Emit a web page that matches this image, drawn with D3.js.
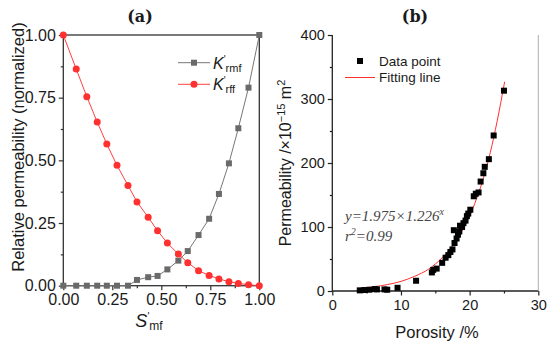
<!DOCTYPE html>
<html>
<head>
<meta charset="utf-8">
<script src="https://cdn.jsdelivr.net/npm/d3@7"></script>
<style>
  body { margin: 0; background: #fff; }
  text { font-family: Arial, "Liberation Sans", sans-serif; fill: #1a1a1a; }
</style>
</head>
<body>
<div id="chart"></div>
<script>
// ---- panel (a): relative permeability vs normalized saturation
var satX = [0, 0.066, 0.12, 0.173, 0.222, 0.274, 0.33, 0.376, 0.433, 0.481, 0.531, 0.587, 0.635, 0.69, 0.744, 0.794, 0.845, 0.893, 0.945, 1.0];
var krmf = [0, 0, 0, 0, 0, 0, 0, 0.023, 0.034, 0.039, 0.065, 0.1, 0.138, 0.202, 0.267, 0.366, 0.488, 0.628, 0.79, 1.0];
var krff = [1.0, 0.864, 0.754, 0.653, 0.565, 0.48, 0.40, 0.334, 0.273, 0.219, 0.17, 0.126, 0.092, 0.06, 0.041, 0.027, 0.016, 0.009, 0.004, 0.0];
var aTicks = [0, 0.25, 0.5, 0.75, 1.0];
var aMinor = [0.125, 0.375, 0.625, 0.875];

// ---- panel (b): permeability vs porosity
var porosity = [4.0, 4.7, 5.4, 6.2, 6.5, 7.6, 8.0, 9.5, 12.2, 14.5, 14.7, 15.2, 16.0, 16.5, 16.9, 17.2, 17.5, 17.7, 17.8, 18.1, 18.3, 18.5, 18.6, 18.9, 19.1, 19.4, 19.6, 19.8, 20.1, 20.6, 20.9, 21.3, 21.6, 22.0, 22.2, 22.8, 23.5, 25.0];
var perm = [1, 1.5, 2, 3, 2.5, 2.5, 2, 5, 16, 29, 33, 35, 44, 52, 56, 61, 65, 95, 75, 82, 88, 93, 102, 100, 106, 110, 117, 121, 127, 148, 152, 154, 171, 184, 194, 206, 243, 313];
var fitPorosity = [4, 6, 8, 10, 12, 14, 16, 18, 19, 20, 21, 22, 23, 24, 25.1];
var fitPerm = [4.4, 6.6, 10, 15, 23, 34, 52, 78, 96, 117, 144, 176, 216, 265, 327];
var bXTicks = [0, 10, 20, 30];
var bXMinor = [5, 15, 25];
var bYTicks = [0, 100, 200, 300, 400];
var bYMinor = [50, 150, 250, 350];

var svg = d3.select("#chart").append("svg")
            .attr("width", 550)
            .attr("height", 347);

function drawAxis(g, axis, color) {
  g.call(axis);
  g.select(".domain").remove();
  g.selectAll("line").attr("stroke", color).attr("stroke-width", 1.2);
  g.selectAll("text").attr("fill", "#1a1a1a");
}

// ================= panel (a) =================
var xa = d3.scaleLinear().domain([0, 1]).range([63.3, 259.3]);
var ya = d3.scaleLinear().domain([0, 1]).range([285.7, 35]);

var ga = svg.append("g");

drawAxis(ga.append("g").attr("transform", "translate(0,285.7)"),
  d3.axisBottom(xa).tickValues(aMinor).tickSize(2.5).tickFormat(""), "#333");
drawAxis(ga.append("g").attr("transform", "translate(0,285.7)")
    .style("font-size", "16px"),
  d3.axisBottom(xa).tickValues(aTicks).tickSize(4.5).tickPadding(3).tickFormat(d3.format(".2f")), "#333");
drawAxis(ga.append("g").attr("transform", "translate(63.3,0)"),
  d3.axisLeft(ya).tickValues(aMinor).tickSize(2.5).tickFormat(""), "#333");
drawAxis(ga.append("g").attr("transform", "translate(63.3,0)")
    .style("font-size", "16px"),
  d3.axisLeft(ya).tickValues(aTicks).tickSize(4.5).tickPadding(3).tickFormat(d3.format(".2f")), "#333");

ga.append("rect")
  .attr("x", xa(0)).attr("y", ya(1))
  .attr("width", xa(1) - xa(0)).attr("height", ya(0) - ya(1))
  .attr("fill", "none").attr("stroke", "#333").attr("stroke-width", 1.3);

var lineA = d3.line().x(function(d) { return xa(d[0]); }).y(function(d) { return ya(d[1]); });
var grayPts = satX.map(function(x, i) { return [x, krmf[i]]; });
var redPts = satX.map(function(x, i) { return [x, krff[i]]; });

ga.append("path").datum(grayPts).attr("d", lineA)
  .attr("fill", "none").attr("stroke", "#777").attr("stroke-width", 1);
ga.selectAll(".sq").data(grayPts).enter().append("rect")
  .attr("x", function(d) { return xa(d[0]) - 3; })
  .attr("y", function(d) { return ya(d[1]) - 3; })
  .attr("width", 6).attr("height", 6)
  .attr("fill", "#6a6a6a");

ga.append("path").datum(redPts).attr("d", lineA)
  .attr("fill", "none").attr("stroke", "#ff4040").attr("stroke-width", 1);
ga.selectAll(".ci").data(redPts).enter().append("circle")
  .attr("cx", function(d) { return xa(d[0]); })
  .attr("cy", function(d) { return ya(d[1]); })
  .attr("r", 3.5)
  .attr("fill", "#ff3030");

// legend (a)
ga.append("line").attr("x1", 178).attr("x2", 210).attr("y1", 62.7).attr("y2", 62.7)
  .attr("stroke", "#777").attr("stroke-width", 1);
ga.append("rect").attr("x", 191).attr("y", 59.7).attr("width", 6).attr("height", 6).attr("fill", "#6a6a6a");
ga.append("line").attr("x1", 178).attr("x2", 210).attr("y1", 84.3).attr("y2", 84.3)
  .attr("stroke", "#ff4040").attr("stroke-width", 1);
ga.append("circle").attr("cx", 194).attr("cy", 84.3).attr("r", 3.5).attr("fill", "#ff3030");

function kLabel(y, sub) {
  var t = ga.append("text").attr("x", 213).attr("y", y).style("font-size", "16px");
  t.append("tspan").style("font-style", "italic").text("K");
  t.append("tspan").attr("dy", -6).style("font-size", "10px").text("'");
  t.append("tspan").attr("dy", 9).style("font-size", "11px").text(sub);
}
kLabel(68.5, "rmf");
kLabel(90, "rff");

// axis titles (a)
ga.append("text")
  .attr("transform", "translate(24,147) rotate(-90)")
  .attr("text-anchor", "middle")
  .style("font-size", "16.5px")
  .text("Relative permeability (normalized)");

var sLab = ga.append("text").attr("x", 149).attr("y", 327).attr("text-anchor", "middle").style("font-size", "18px");
sLab.append("tspan").style("font-style", "italic").text("S");
sLab.append("tspan").attr("dy", -7).style("font-size", "10px").text("'");
sLab.append("tspan").attr("dy", 10).style("font-size", "12px").text("mf");

ga.append("text").attr("x", 140).attr("y", 22).attr("text-anchor", "middle")
  .style("font-family", "'DejaVu Serif', 'Liberation Serif', serif").style("font-weight", "bold")
  .style("font-size", "16px").text("(a)");

// ================= panel (b) =================
var xb = d3.scaleLinear().domain([0, 30]).range([332.3, 538.3]);
var yb = d3.scaleLinear().domain([0, 400]).range([291, 35]);

var gb = svg.append("g");

drawAxis(gb.append("g").attr("transform", "translate(0,291)"),
  d3.axisBottom(xb).tickValues(bXMinor).tickSize(2.5).tickFormat(""), "#222");
drawAxis(gb.append("g").attr("transform", "translate(0,291)").style("font-size", "14.5px"),
  d3.axisBottom(xb).tickValues(bXTicks).tickSize(4.5).tickPadding(4).tickFormat(d3.format("d")), "#222");
drawAxis(gb.append("g").attr("transform", "translate(332.3,0)"),
  d3.axisLeft(yb).tickValues(bYMinor).tickSize(2.5).tickFormat(""), "#222");
drawAxis(gb.append("g").attr("transform", "translate(332.3,0)").style("font-size", "14.5px"),
  d3.axisLeft(yb).tickValues(bYTicks).tickSize(4.5).tickPadding(3).tickFormat(d3.format("d")), "#222");

gb.append("line").attr("x1", xb(0)).attr("x2", xb(30)).attr("y1", yb(0)).attr("y2", yb(0))
  .attr("stroke", "#222").attr("stroke-width", 1.3);
gb.append("line").attr("x1", xb(0)).attr("x2", xb(0)).attr("y1", yb(0)).attr("y2", yb(400))
  .attr("stroke", "#222").attr("stroke-width", 1.3);
gb.append("line").attr("x1", xb(30)).attr("x2", xb(30)).attr("y1", yb(0)).attr("y2", yb(400))
  .attr("stroke", "#999").attr("stroke-width", 0.8);

var fitPts = fitPorosity.map(function(x, i) { return [x, fitPerm[i]]; });
gb.append("path").datum(fitPts)
  .attr("d", d3.line().curve(d3.curveMonotoneX)
    .x(function(d) { return xb(d[0]); }).y(function(d) { return yb(d[1]); }))
  .attr("fill", "none").attr("stroke", "#ff3030").attr("stroke-width", 1);

gb.selectAll(".pt").data(porosity).enter().append("rect")
  .attr("x", function(d) { return xb(d) - 3; })
  .attr("y", function(d, i) { return yb(perm[i]) - 3; })
  .attr("width", 6).attr("height", 6)
  .attr("fill", "#000");

// legend (b)
gb.append("rect").attr("x", 357).attr("y", 58).attr("width", 6).attr("height", 6).attr("fill", "#000");
gb.append("text").attr("x", 379).attr("y", 66).style("font-size", "13.5px").text("Data point");
gb.append("line").attr("x1", 345).attr("x2", 375).attr("y1", 77.5).attr("y2", 77.5)
  .attr("stroke", "#ff3030").attr("stroke-width", 1);
gb.append("text").attr("x", 379).attr("y", 82).style("font-size", "13.5px").text("Fitting line");

// equation
var eq = gb.append("text").attr("x", 345).attr("y", 221)
  .style("font-family", "'Liberation Serif', 'Times New Roman', serif")
  .style("font-style", "italic").style("font-size", "15px");
eq.append("tspan").attr("fill", "#444").text("y=1.975\u00d71.226");
eq.append("tspan").attr("dy", -6).attr("fill", "#444").style("font-size", "10px").text("x");
var r2 = gb.append("text").attr("x", 345).attr("y", 241)
  .style("font-family", "'Liberation Serif', 'Times New Roman', serif")
  .style("font-style", "italic").style("font-size", "15px");
r2.append("tspan").attr("fill", "#444").text("r");
r2.append("tspan").attr("dy", -6).attr("fill", "#444").style("font-size", "10px").text("2");
r2.append("tspan").attr("dy", 6).attr("fill", "#444").text("=0.99");

// axis titles (b)
var pl = gb.append("text")
  .attr("transform", "translate(291,163) rotate(-90)")
  .attr("text-anchor", "middle")
  .style("font-size", "16px");
pl.append("tspan").text("Permeability /\u00d710");
pl.append("tspan").attr("dy", -6).style("font-size", "11px").text("\u221215");
pl.append("tspan").attr("dy", 6).text(" m");
pl.append("tspan").attr("dy", -6).style("font-size", "11px").text("2");

gb.append("text").attr("x", 437).attr("y", 338).attr("text-anchor", "middle")
  .style("font-size", "16.5px").text("Porosity /%");

gb.append("text").attr("x", 415).attr("y", 22).attr("text-anchor", "middle")
  .style("font-family", "'DejaVu Serif', 'Liberation Serif', serif").style("font-weight", "bold")
  .style("font-size", "16px").text("(b)");
</script>
</body>
</html>
